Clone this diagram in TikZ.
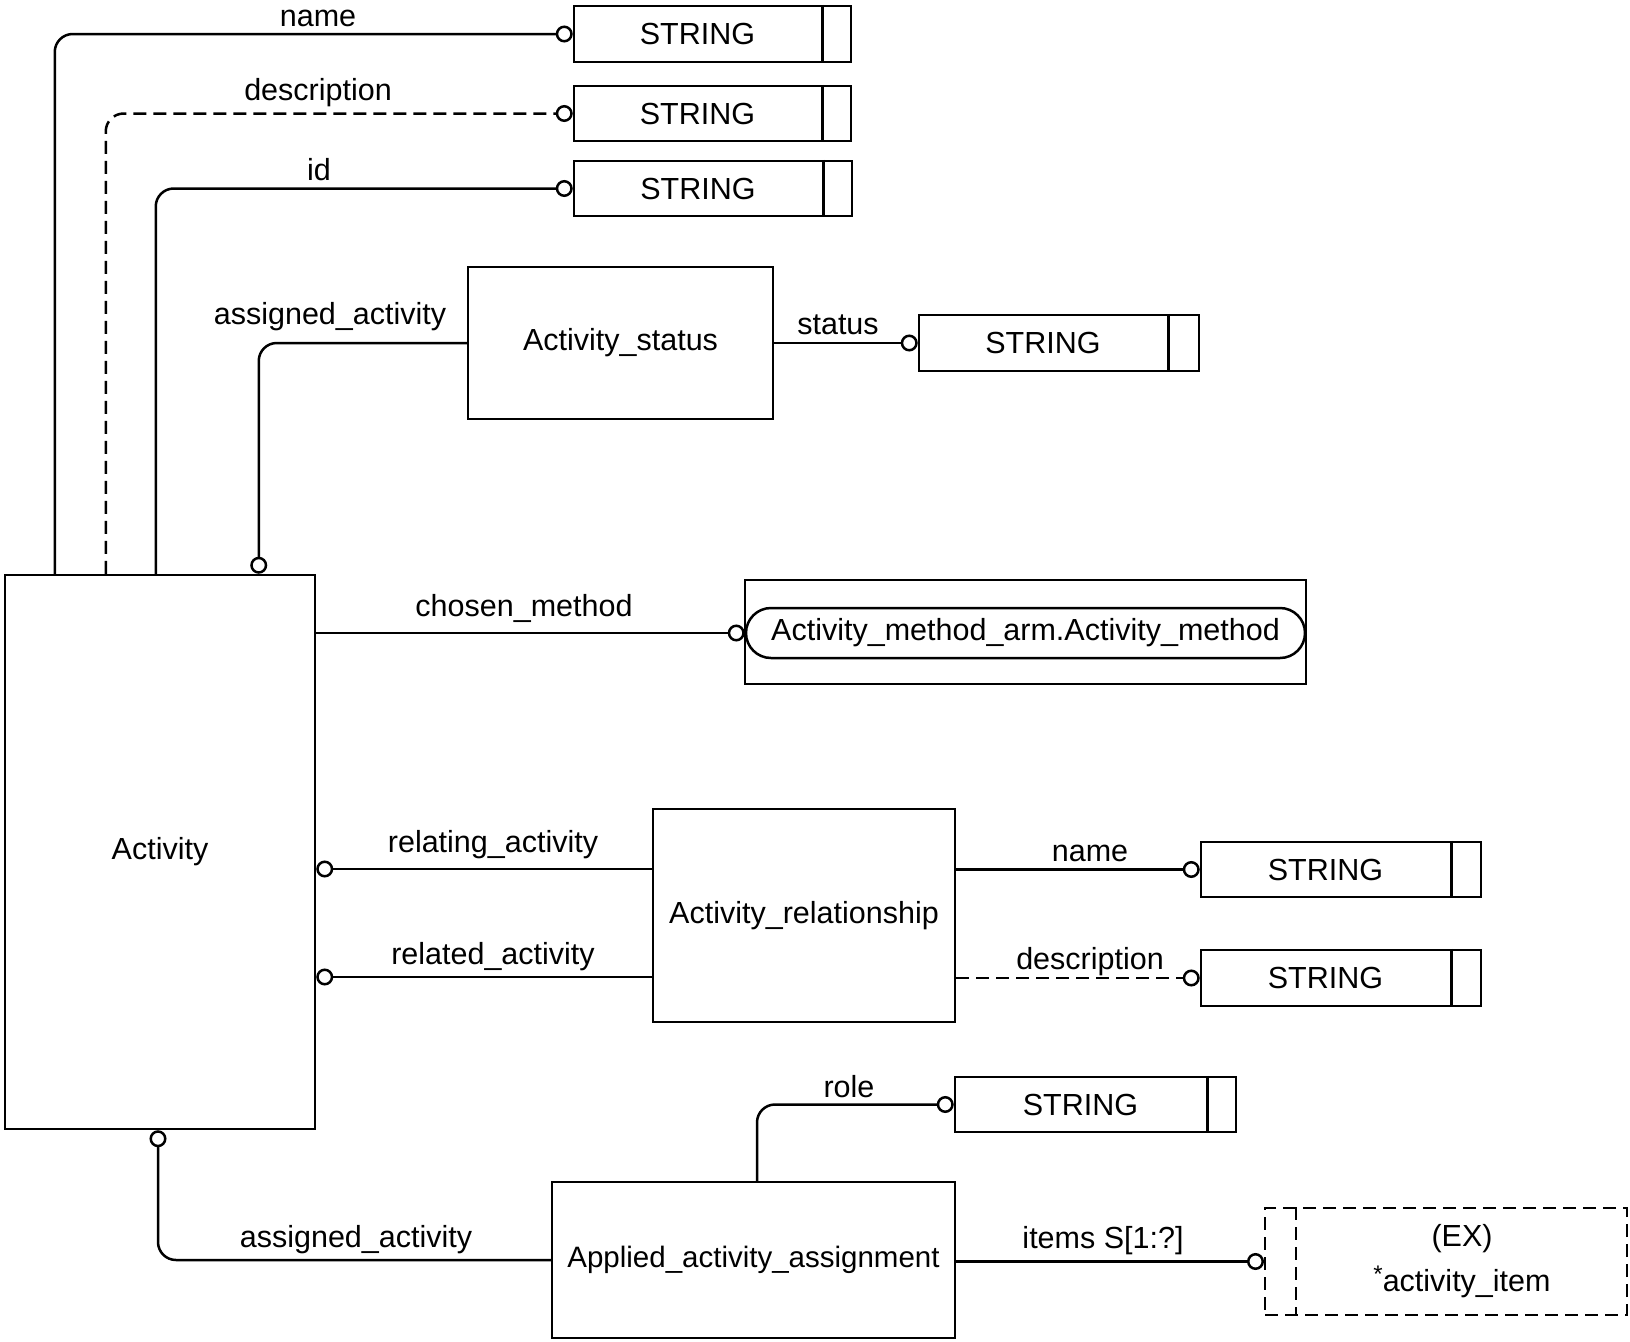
\documentclass[tikz,border=0pt]{standalone}
\usepackage{fontspec}
\setmainfont{Liberation Sans}
\usetikzlibrary{arrows.meta}
\begin{document}
\begin{tikzpicture}[x=1pt,y=-1pt, line width=2.5pt,
  every node/.style={font=\fontsize{30.5}{36}\selectfont},
  box/.style={draw, rectangle, inner sep=0pt},
  conn/.style={line width=2.5pt, rounded corners=18pt},
  oc/.style={-{Circle[open,length=17pt,width=17pt]}},
  lbl/.style={anchor=base, inner sep=0pt},
  dsh/.style={dash pattern=on 13pt off 7pt}]
\useasboundingbox[fill=white] (0,0) rectangle (1630,1341);

% STRING boxes
\node[box, minimum width=277pt, minimum height=56pt] (s1) at (712.5,34) {STRING\hspace*{30pt}};
\node[box, minimum width=277pt, minimum height=55pt] (s2) at (712.5,113.5) {STRING\hspace*{30pt}};
\node[box, minimum width=278pt, minimum height=55pt] (s3) at (713,188.5) {STRING\hspace*{30pt}};
\node[box, minimum width=280pt, minimum height=56pt] (s4) at (1059,343) {STRING\hspace*{32pt}};
\node[box, minimum width=280pt, minimum height=55pt] (s5) at (1341,869.5) {STRING\hspace*{31pt}};
\node[box, minimum width=280pt, minimum height=56pt] (s6) at (1341,978) {STRING\hspace*{31pt}};
\node[box, minimum width=281pt, minimum height=55pt] (s7) at (1095.5,1104.5) {STRING\hspace*{30pt}};
\foreach \n/\d in {s1/30,s2/30,s3/30,s4/32,s5/31,s6/31,s7/30}
  \draw ([xshift=-\d pt]\n.north east) -- ([xshift=-\d pt]\n.south east);

% entities
\node[box, minimum width=310pt, minimum height=554pt] (act) at (160,852) {Activity};
\node[box, minimum width=305pt, minimum height=152pt] (ast) at (620.5,343) {Activity\_status};
\node[box, minimum width=302pt, minimum height=213pt] (rel) at (804,915.5) {Activity\_relationship};
\node[box, minimum width=403pt, minimum height=156pt] (app) at (753.5,1260) {\fontsize{29.5}{36}\selectfont Applied\_activity\_assignment};

% method reference
\node[box, line width=1.5pt, minimum width=561pt, minimum height=104pt] (methbox) at (1025.5,632) {};
\node[draw, rounded corners=25pt, inner sep=0pt, minimum width=559pt, minimum height=50pt] (meth) at (1025.5,633) {Activity\_method\_arm.Activity\_method};

% EX box
\node[box, dsh, line width=2pt, minimum width=362pt, minimum height=107pt] (ex) at (1446,1261.5) {};
\draw[dsh, line width=2pt] ([xshift=32pt]ex.north west) -- ([xshift=32pt]ex.south west);
\node[inner sep=0pt, align=center] (extxt) at ([xshift=16pt]ex.center) {(EX)\\[9pt]\raisebox{9pt}{\fontsize{24}{24}\selectfont *}activity\_item};

% connectors
\draw[conn, oc] ([xshift=51pt]act.north west) |- (s1.west);
\draw[conn, dsh, oc] ([xshift=102pt]act.north west) |- (s2.west);
\draw[conn, oc] ([xshift=152pt]act.north west) |- (s3.west);
\draw[conn, oc] (ast.west) -| ([xshift=255pt]act.north west);
\draw[conn, oc] (ast.east) -- (s4.west);
\draw[conn, oc] (act.east |- meth.west) -- (meth.west);
\coordinate (r1) at ([yshift=46.5pt]rel.west);
\coordinate (r2) at ([yshift=-61.5pt]rel.west);
\draw[conn, oc] (r1) -- (r1 -| act.east);
\draw[conn, oc] (r2) -- (r2 -| act.east);
\draw[conn, oc] (s5.west -| rel.east) -- (s5.west);
\draw[conn, dsh, oc] (s6.west -| rel.east) -- (s6.west);
\draw[conn, oc] ([xshift=3.5pt]app.north) |- (s7.west);
\draw[conn, oc] (app.west) -| ([xshift=-2pt]act.south);
\draw[conn, oc] (ex.west -| app.east) -- (ex.west);

% labels
\node[lbl] (l1) at (318,26) {name};
\node[lbl] (l2) at (318,100) {description};
\node[lbl] (l3) at (319,180) {id};
\node[lbl] (l4) at (330,324) {assigned\_activity};
\node[lbl] (l5) at (838,334) {status};
\node[lbl] (l6) at (524,616) {chosen\_method};
\node[lbl] (l7) at (493,852) {relating\_activity};
\node[lbl] (l8) at (493,964) {related\_activity};
\node[lbl] (l9) at (1090,861) {name};
\node[lbl] (l10) at (1090,969) {description};
\node[lbl] (l11) at (849,1097) {role};
\node[lbl] (l12) at (356,1247) {assigned\_activity};
\node[lbl] (l13) at (1103,1248) {items S[1:?]};
\end{tikzpicture}
\end{document}
